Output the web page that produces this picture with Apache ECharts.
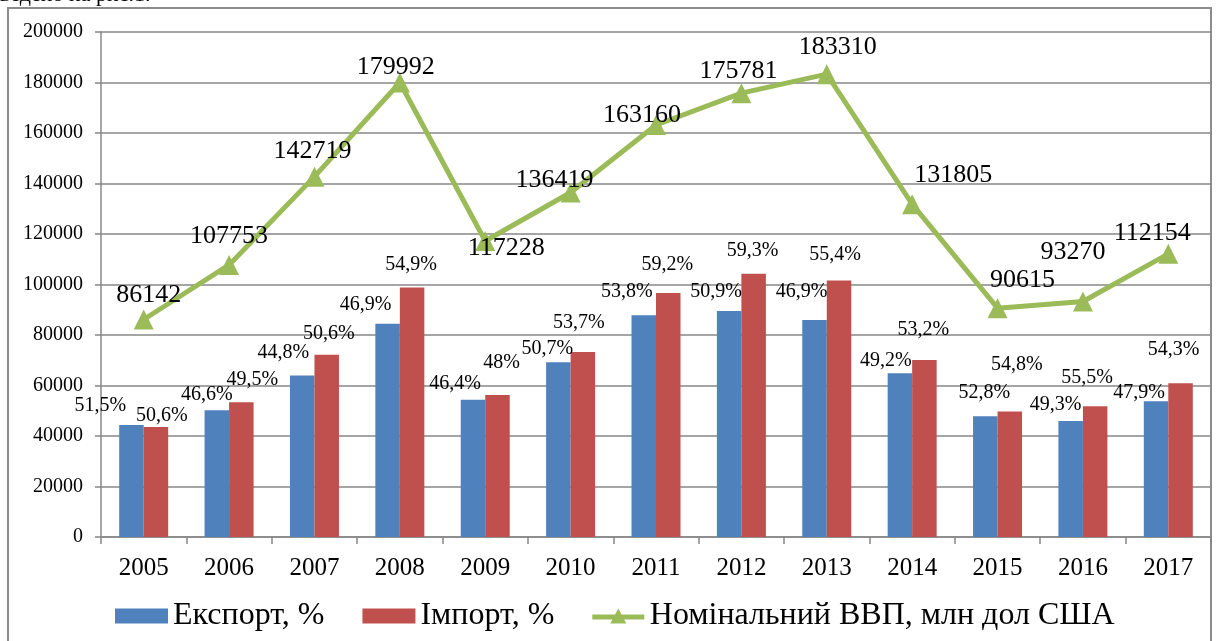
<!DOCTYPE html>
<html>
<head>
<meta charset="utf-8">
<script src="https://cdn.jsdelivr.net/npm/echarts@6/dist/echarts.min.js"></script>
<style>
html,body{margin:0;padding:0;background:#fff;}
#chart{width:1218px;height:641px;}
</style>
</head>
<body>
<div id="chart"></div>
<script>
// ---- data ----
const years = ['2005','2006','2007','2008','2009','2010','2011','2012','2013','2014','2015','2016','2017'];
const exportValues = [44363, 50213, 63938, 84416, 54394, 69164, 87780, 89473, 85972, 64848, 47845, 45982, 53722];
const importValues = [43588, 53338, 72216, 98816, 56269, 73257, 96591, 104238, 101554, 70120, 49657, 51765, 60900];
const gdpValues = [86142, 107753, 142719, 179992, 117228, 136419, 163160, 175781, 183310, 131805, 90615, 93270, 112154];
const exportPct = ['51,5%','46,6%','44,8%','46,9%','46,4%','50,7%','53,8%','50,9%','46,9%','49,2%','52,8%','49,3%','47,9%'];
const importPct = ['50,6%','49,5%','50,6%','54,9%','48%','53,7%','59,2%','59,3%','55,4%','53,2%','54,8%','55,5%','54,3%'];
const seriesNames = ['Експорт, %', 'Імпорт, %', 'Номінальний ВВП, млн дол США'];
const yTicks = {min: 0, max: 200000, interval: 20000};

// ---- label placement (styling, offsets from anchor) ----
const exportLabelShift = [[-31,-19],[-10,-15],[-19,-23],[-22,-19],[-18,-16],[-11,-14],[-17,-24],[-13,-19],[-13,-28],[-14,-13],[-1,-23],[-15,-16],[-17,-9]];
const importLabelShift = [[6,-11],[11,-23],[2,-21],[-1,-23],[4,-32],[-4,-29],[-1,-28],[-1,-23],[-4,-26],[-1,-30],[7,-47],[-8,-29],[-7,-33]];
const gdpLabelShift = [[5,-24],[0,-29],[-2,-25],[-4,-15],[21,7],[-16,-12],[-14,-10],[-3,-22],[11,-27],[41,-29],[25,-28],[-10,-49],[-16,-21]];

const FONT = '"Liberation Serif", "Times New Roman", serif';
const GRID_COLOR = '#878787';
const LINE_LEGEND_ICON = 'path://M0,6 L22.8,6 L26,0 L29.2,6 L52,6 L52,11 L31.9,11 L34,15 L18,15 L20.1,11 L0,11 Z';

function barData(values, labels, shifts) {
  return values.map((v, i) => ({
    value: v,
    label: {formatter: labels[i], offset: shifts[i]}
  }));
}

const chart = echarts.init(document.getElementById('chart'), null, {renderer: 'canvas'});
chart.setOption({
  animation: false,
  backgroundColor: '#ffffff',
  textStyle: {fontFamily: FONT},
  graphic: [
    {type: 'rect', z: -10, shape: {x: 8, y: 8, width: 1203, height: 700},
     style: {fill: 'none', stroke: '#8c8c8c', lineWidth: 2}},
    {type: 'text', left: 0, top: -16,
     style: {text: 'ведено на рис.1.', font: '22px ' + FONT, fill: '#000'}}
  ],
  grid: {left: 101, right: 7, top: 32, bottom: 104, containLabel: false},
  legend: {
    left: 110, top: 595,
    itemWidth: 53, itemHeight: 15, itemGap: 38,
    textStyle: {fontFamily: FONT, fontSize: 32, color: '#000'},
    data: [
      {name: seriesNames[0], icon: 'rect'},
      {name: seriesNames[1], icon: 'rect'},
      {name: seriesNames[2], icon: LINE_LEGEND_ICON}
    ]
  },
  xAxis: {
    type: 'category',
    data: years,
    boundaryGap: true,
    axisLine: {show: true, lineStyle: {color: GRID_COLOR, width: 1.5}},
    axisTick: {show: true, length: 7, lineStyle: {color: GRID_COLOR, width: 1.5}},
    axisLabel: {fontFamily: FONT, fontSize: 25, color: '#000', margin: 19}
  },
  yAxis: {
    type: 'value',
    min: yTicks.min, max: yTicks.max, interval: yTicks.interval,
    axisLine: {show: true, lineStyle: {color: GRID_COLOR, width: 1.5}},
    axisTick: {show: true, length: 6, lineStyle: {color: GRID_COLOR, width: 1.5}},
    splitLine: {show: true, lineStyle: {color: GRID_COLOR, width: 1.5}},
    axisLabel: {fontFamily: FONT, fontSize: 20, color: '#000', margin: 18,
                formatter: v => String(v)}
  },
  series: [
    {
      name: seriesNames[0], type: 'bar', barWidth: 24.5, barGap: '0%',
      itemStyle: {color: '#4F81BD'},
      label: {show: true, position: ['50%', 0], align: 'center', verticalAlign: 'middle',
              fontFamily: FONT, fontSize: 20, color: '#000'},
      data: barData(exportValues, exportPct, exportLabelShift)
    },
    {
      name: seriesNames[1], type: 'bar', barWidth: 24.5, barGap: '0%',
      itemStyle: {color: '#C0504D'},
      label: {show: true, position: ['50%', 0], align: 'center', verticalAlign: 'middle',
              fontFamily: FONT, fontSize: 20, color: '#000'},
      data: barData(importValues, importPct, importLabelShift)
    },
    {
      name: seriesNames[2], type: 'line',
      symbol: 'triangle', symbolSize: 20,
      lineStyle: {color: '#9BBB59', width: 5},
      itemStyle: {color: '#9BBB59'},
      label: {show: true, position: 'inside', align: 'center', verticalAlign: 'middle',
              fontFamily: FONT, fontSize: 26, color: '#000'},
      data: gdpValues.map((v, i) => ({value: v, label: {offset: gdpLabelShift[i]}})),
      z: 5
    }
  ]
});
</script>
</body>
</html>
